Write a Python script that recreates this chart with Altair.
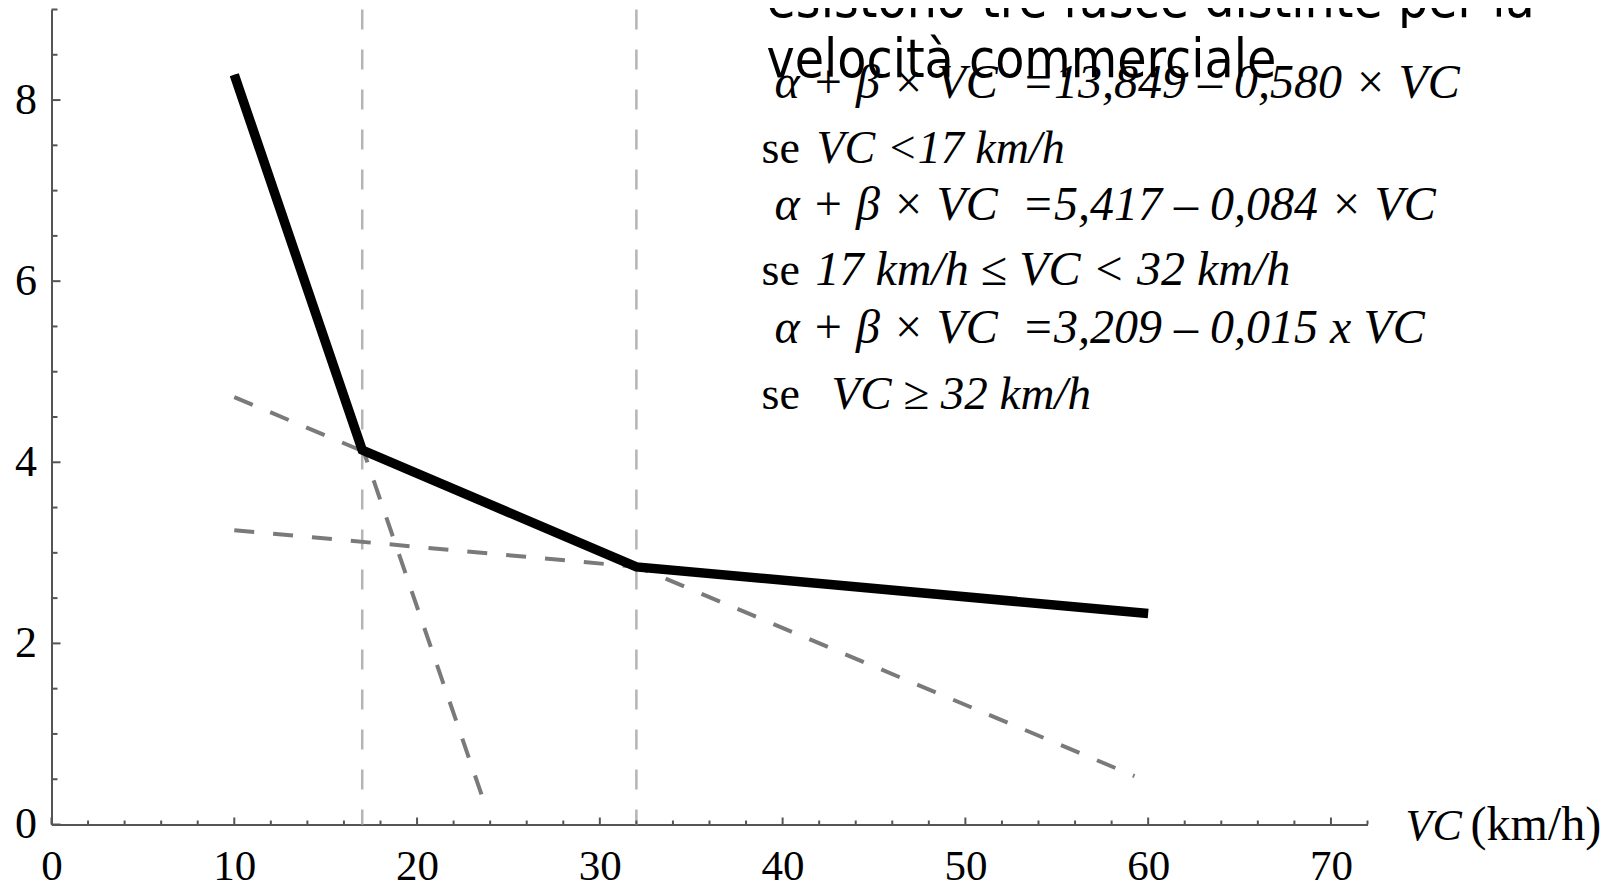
import altair as alt
import pandas as pd

# ---------------- data ----------------
# solid piecewise curve (alpha + beta x VC)
vc_points = [10, 17, 32, 60]
fit_values = [8.28, 4.135, 2.845, 2.33]

# three dashed regression lines (start / end)
line_names = ["VC<17", "17<=VC<32", "VC>=32"]
line_x_start = [10, 10, 10]
line_x_end = [23.8, 59.25, 60]
line_y_start = [8.28, 4.72, 3.25]
line_y_end = [0.17, 0.535, 2.33]

# speed thresholds (vertical dashed lines)
thresholds = [17, 32]

# axis ticks
x_major = [0, 10, 20, 30, 40, 50, 60, 70]
x_minor = [v for v in range(2, 73, 2) if v % 10 != 0]
y_major = [0, 2, 4, 6, 8]
y_minor = [v / 2 for v in range(1, 19) if v % 4 != 0]

# annotation texts
title_lines = ["esistono tre fasce distinte per la", "velocità commerciale"]
eq_lines = [
    "α + β × VC \u00a0=13,849 – 0,580 × VC",
    "α + β × VC \u00a0=5,417 – 0,084 × VC",
    "α + β × VC \u00a0=3,209 – 0,015 x VC",
]
cond_prefix = "se"
cond_lines = ["VC <17 km/h", "17 km/h ≤ VC < 32 km/h", "VC ≥ 32 km/h"]
x_title_italic = "VC"
x_title_plain = "(km/h)"

# ---------------- layout ----------------
W, H = 1316, 815
xs = alt.Scale(domain=[0, 72], nice=False, zero=False)
ys = alt.Scale(domain=[0, 9], nice=False, zero=False)
AXC = "#555555"
SERIF = "Liberation Serif"

x_axis = alt.Axis(values=x_major, ticks=False, grid=False, title=None,
                  labelFont=SERIF, labelFontSize=43, labelColor="black",
                  labelPadding=21, labelFlush=False, labelOverlap=False,
                  labelBound=False, domainColor=AXC, domainWidth=2, format="d")
y_axis = alt.Axis(values=y_major, ticks=False, grid=False, title=None,
                  labelFont=SERIF, labelFontSize=44, labelColor="black",
                  labelPadding=15, labelFlush=False, labelOverlap=False,
                  labelBound=False, domainColor=AXC, domainWidth=2, format="d")

fit_df = pd.DataFrame({"x": vc_points, "y": fit_values})
dash_rows = []
for n, x0, x1, y0, y1 in zip(line_names, line_x_start, line_x_end, line_y_start, line_y_end):
    dash_rows.append({"s": n, "x": x0, "y": y0, "o": 0})
    dash_rows.append({"s": n, "x": x1, "y": y1, "o": 1})
dash_df = pd.DataFrame(dash_rows)
thr_df = pd.DataFrame({"x": thresholds})

X = lambda f: alt.X(f, type="quantitative", scale=xs, axis=x_axis)
Y = lambda f: alt.Y(f, type="quantitative", scale=ys, axis=y_axis)

thr = alt.Chart(thr_df).mark_rule(color="#b5b5b5", strokeWidth=2.5, strokeDash=[20, 20]).encode(
    x=X("x"), y=alt.value(0), y2=alt.value(H))

dashed = alt.Chart(dash_df).mark_line(color="#7a7a7a", strokeWidth=4, strokeDash=[20, 19]).encode(
    x=X("x"), y=Y("y"), detail="s:N", order="o:Q")

solid = alt.Chart(fit_df).mark_line(color="black", strokeWidth=9.5).encode(
    x=X("x"), y=Y("y"))

xt_major = alt.Chart(pd.DataFrame({"t": x_major})).mark_rule(color=AXC, strokeWidth=2).encode(
    x=X("t"), y=alt.value(H), y2=alt.value(H - 7))
xt_minor = alt.Chart(pd.DataFrame({"t": x_minor})).mark_rule(color=AXC, strokeWidth=2).encode(
    x=X("t"), y=alt.value(H), y2=alt.value(H - 4))
yt_major = alt.Chart(pd.DataFrame({"t": y_major})).mark_rule(color=AXC, strokeWidth=2).encode(
    y=Y("t"), x=alt.value(0), x2=alt.value(9))
yt_minor = alt.Chart(pd.DataFrame({"t": y_minor})).mark_rule(color=AXC, strokeWidth=2).encode(
    y=Y("t"), x=alt.value(0), x2=alt.value(6))


def label(text, px, py, size, font=SERIF, style="normal"):
    return alt.Chart(pd.DataFrame({"t": [text]})).mark_text(
        align="left", baseline="alphabetic", font=font, fontSize=size,
        fontStyle=style, color="black").encode(
        x=alt.value(px), y=alt.value(py), text="t:N")


SANS = "DejaVu Sans Condensed, DejaVu Sans"
texts = [
    label(title_lines[0], 715, 7.5, 53, font=SANS),
    label(title_lines[1], 715, 67.5, 53, font=SANS),
    label(eq_lines[0], 723, 88.5, 48, style="italic"),
    label(eq_lines[1], 723, 210.5, 48, style="italic"),
    label(eq_lines[2], 723, 333.5, 48, style="italic"),
    label(cond_prefix, 710, 153.5, 46),
    label(cond_prefix, 710, 275.5, 46),
    label(cond_prefix, 710, 399.5, 46),
    label(cond_lines[0], 765, 153.5, 46, style="italic"),
    label(cond_lines[1], 764, 275.5, 48, style="italic"),
    label(cond_lines[2], 780, 399.5, 47, style="italic"),
    label(x_title_italic, 1354, 830.5, 44, style="italic"),
    label(x_title_plain, 1419, 830.5, 48),
]

chart = alt.layer(thr, dashed, solid, xt_major, xt_minor, yt_major, yt_minor, *texts).properties(
    width=W, height=H,
    padding={"left": 43.5, "top": 1.5, "right": 240, "bottom": 60},
    autosize=alt.AutoSizeParams(type="none"),
    background="white",
).configure_view(stroke=None)

chart.save("out.html", embed_options={"renderer": "svg", "actions": False})
